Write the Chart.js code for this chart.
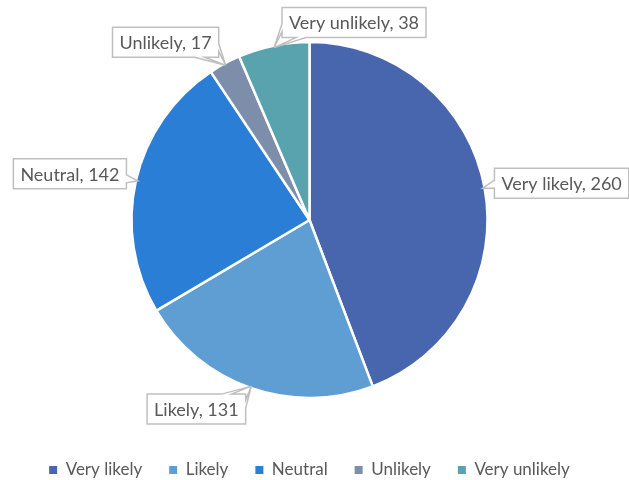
<!DOCTYPE html>
<html>
<head>
<meta charset="utf-8">
<script src="https://cdn.jsdelivr.net/npm/chart.js@4/dist/chart.umd.min.js"></script>
<style>
    html, body { margin: 0; padding: 0; background: #fff; }
    #wrap { width: 629px; height: 480px; }
</style>
</head>
<body>
<div id="wrap"><canvas id="chart" width="629" height="480"></canvas></div>
<script>
// chart data
const categories = ["Very likely", "Likely", "Neutral", "Unlikely", "Very unlikely"];
const answers = [260, 131, 142, 17, 38];
const sliceColors = ["#4866AD", "#5F9ED3", "#2A7ED6", "#7D8EAA", "#59A3AF"];

// where each callout box sits, relative to the tip on the slice edge
const calloutOffsets = [[79, -5], [-55, 23], [-68, -7], [-60, -23], [80, -25]];

const FONT = "Lato, 'Liberation Sans', sans-serif";
const TEXT_COLOR = "#595959";

// Excel-like callout labels with a little pointer
const calloutPlugin = {
    id: "callouts",
    afterDatasetsDraw(chart) {
        const ctx = chart.ctx;
        const meta = chart.getDatasetMeta(0);
        ctx.save();
        ctx.font = "18px " + FONT;
        ctx.textAlign = "center";
        ctx.textBaseline = "middle";
        meta.data.forEach((arc, i) => {
            const p = arc.getProps(["x", "y", "startAngle", "endAngle", "outerRadius"], true);
            const mid = (p.startAngle + p.endAngle) / 2;
            const tx = p.x + Math.cos(mid) * (p.outerRadius - 2);
            const ty = p.y + Math.sin(mid) * (p.outerRadius - 2);
            const text = categories[i] + ", " + answers[i];
            const w = ctx.measureText(text).width + 14;
            const h = 30;
            const cx = tx + calloutOffsets[i][0];
            const cy = ty + calloutOffsets[i][1];
            const x0 = cx - w / 2, x1 = cx + w / 2, y0 = cy - h / 2, y1 = cy + h / 2;
            const clamp = (v, a, b) => Math.max(a, Math.min(b, v));

            // outline with a notch on the side facing the tip
            ctx.beginPath();
            ctx.moveTo(x0, y0);
            if (ty < y0) {
                const b = clamp(tx, x0 + 14, x1 - 24);
                ctx.lineTo(b, y0); ctx.lineTo(tx, ty); ctx.lineTo(b + 10, y0);
            }
            ctx.lineTo(x1, y0);
            if (tx > x1) {
                const b = clamp(ty, y0 + 6, y1 - 14);
                ctx.lineTo(x1, b); ctx.lineTo(tx, ty); ctx.lineTo(x1, b + 8);
            }
            ctx.lineTo(x1, y1);
            if (ty > y1) {
                const b = clamp(tx, x0 + 24, x1 - 14);
                ctx.lineTo(b, y1); ctx.lineTo(tx, ty); ctx.lineTo(b - 10, y1);
            }
            ctx.lineTo(x0, y1);
            if (tx < x0) {
                const b = clamp(ty, y0 + 14, y1 - 6);
                ctx.lineTo(x0, b); ctx.lineTo(tx, ty); ctx.lineTo(x0, b - 8);
            }
            ctx.closePath();
            ctx.fillStyle = "#ffffff";
            ctx.fill();
            ctx.lineWidth = 1.5;
            ctx.strokeStyle = "#BFBFBF";
            ctx.stroke();

            ctx.fillStyle = TEXT_COLOR;
            ctx.fillText(text, cx, cy + 1);
        });
        ctx.restore();
    }
};

const ctx = document.getElementById("chart").getContext("2d");

const chart = new Chart(ctx, {
    type: "pie",
    data: {
        labels: categories,
        datasets: [{
            data: answers,
            backgroundColor: sliceColors,
            borderColor: "#ffffff",
            borderWidth: 2.5,
            radius: 178
        }]
    },
    options: {
        responsive: false,
        animation: false,
        events: [],
        layout: { padding: { top: 5.5, bottom: -8.5, left: 0, right: 10 } },
        plugins: {
            tooltip: { enabled: false },
            legend: {
                position: "bottom",
                labels: {
                    usePointStyle: true,
                    pointStyle: "rect",
                    boxWidth: 8,
                    boxHeight: 8,
                    padding: 27,
                    color: TEXT_COLOR,
                    font: { family: FONT, size: 17 },
                    generateLabels(c) {
                        return Chart.overrides.pie.plugins.legend.labels.generateLabels(c)
                            .map(item => Object.assign(item, { lineWidth: 0 }));
                    }
                }
            }
        }
    },
    plugins: [calloutPlugin]
});
</script>
</body>
</html>
